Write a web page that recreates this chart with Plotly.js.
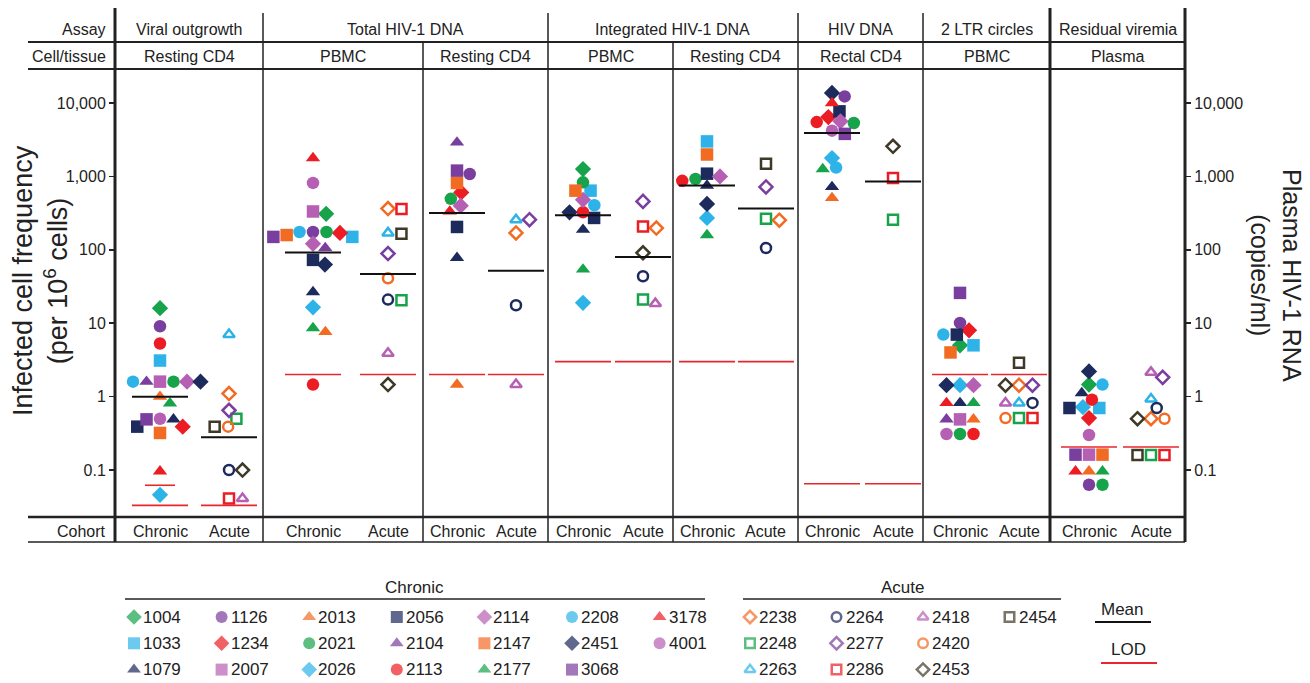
<!DOCTYPE html>
<html><head><meta charset="utf-8">
<script src="https://cdn.plot.ly/plotly-3.0.1.min.js"></script>
<style>html,body{margin:0;padding:0;background:#fff}#chart{width:1310px;height:683px}</style>
</head><body><div id="chart"></div>
<script>
// ---------------- DATA ----------------
const chronicIds = ['1004','1033','1079','1126','1234','2007','2013','2021','2026','2056','2104','2113','2114','2147','2177','2208','2451','3068','3178','4001'];
const chronicSymbols = ['diamond','square','triangle-up','circle','diamond','square','triangle-up','circle','diamond','square','triangle-up','circle','diamond','square','triangle-up','circle','diamond','square','triangle-up','circle'];
const chronicColors = ['green','cyan','navy','purple','red','pink','orange','green','cyan','navy','purple','red','pink','orange','green','cyan','navy','purple','red','pink'];

const acuteIds = ['2238','2248','2263','2264','2277','2286','2418','2420','2453','2454'];
const acuteSymbols = ['diamond-open','square-open','triangle-up-open','circle-open','diamond-open','square-open','triangle-up-open','circle-open','diamond-open','square-open'];
const acuteColors = ['orange','green','cyan','navy','purple','red','pink','orange','olive','olive'];

const assays = ['Viral outgrowth','Total HIV-1 DNA','Integrated HIV-1 DNA','HIV DNA','2 LTR circles','Residual viremia'];
const assaySpans = [1,2,2,1,1,1];
const tissues = ['Resting CD4','PBMC','Resting CD4','PBMC','Resting CD4','Rectal CD4','PBMC','Plasma'];
const cohorts = ['Chronic','Acute'];

// values per column, in chronicIds order
const voChronic      = [16,3.1,0.49,9.1,0.39,1.6,1.0,1.6,0.046,0.39,1.6,5.3,1.6,0.32,0.81,1.6,1.6,0.49,0.096,0.5];
const pbmcChronic    = [310,150,26.6,175,170,333,7.6,175,16.5,73,106,1.46,121,159,8.6,175,63,150,1780,815];
const restChronic    = [null,null,78,1080,605,null,1.46,495,null,205,2900,null,400,815,null,null,null,1200,333,null];
const intPbmcChronic = [1260,640,188,null,null,null,null,830,19,272,null,325,480,640,54,405,325,null,null,null];
const intRestChronic = [null,3000,750,null,null,null,null,925,272,1090,null,870,1000,1990,159,null,422,null,null,null];
const rectalChronic  = [null,null,720,12300,6450,null,510,5350,1780,7700,null,5500,5630,null,1260,1320,13700,3800,10000,4200];
const ltrChronic     = [5.0,5.0,0.82,10.1,8.0,0.49,0.49,0.31,1.43,7.0,0.49,0.31,1.43,4.0,0.82,7.0,1.43,25.9,0.82,0.31];
const plasmaChronic  = [1.46,0.70,1.12,0.063,0.51,0.162,0.096,0.063,0.72,0.70,null,0.91,null,0.162,0.096,1.46,2.2,0.162,0.096,0.30];

// values per column, in acuteIds order
const voAcute      = [1.1,0.50,7.0,0.1,0.65,0.041,0.041,0.39,0.1,0.39];
const pbmcAcute    = [365,20.5,170,21,89,360,3.9,41,1.46,166];
const restAcute    = [170,null,257,17.6,257,null,1.46,null,null,null];
const intPbmcAcute = [198,21,null,43.6,457,208,18.5,null,91,null];
const intRestAcute = [253,265,null,106,720,null,null,null,null,1490];
const rectalAcute  = [null,257,null,null,null,955,null,null,2570,null];
const ltrAcute     = [1.43,0.51,0.82,0.82,1.43,0.51,0.82,0.51,1.43,2.9];
const plasmaAcute  = [0.50,0.16,0.93,0.70,1.83,0.16,2.14,0.50,0.50,0.16];

const meanChronic = [1.0,92,318,295,755,3900,null,null];
const meanAcute   = [0.28,47,52,80,365,855,null,null];
const lodChronic  = [0.033,2.0,2.0,3.0,3.0,0.065,2.0,0.206];
const lodAcute    = [0.033,2.0,2.0,3.0,3.0,0.065,2.0,0.206];
const lodChronicVOExtra = 0.062;

const yTickVals = [0.1,1,10,100,1000,10000];
const yTickText = ['0.1','1','10','100','1,000','10,000'];

// ---------------- STYLE / LAYOUT ----------------
const palette = {green:'#17a34a',cyan:'#2db3e8',navy:'#1c2a5c',purple:'#7a3f9e',red:'#ec1c24',pink:'#b660b4',orange:'#f26b23',olive:'#3e3a27'};
const W=1310,H=683;
const FONT='"Liberation Sans", Arial, sans-serif';
const plotL=115, plotR=1185, plotT=70, plotB=517;
const yRange=[-1.64,4.45];
const X=p=>p/W, Y=p=>1-p/H;
const bounds=[115,263,423,548,673,798,923,1050,1185];
const colX=[[160,229],[313,388],[457,516],[583,643],[707,766],[832,893],[960,1019],[1089,1151]];
const lineHalf=28;
const DX=13.5, DY=10;
const pxPerDec=(plotB-plotT)/(yRange[1]-yRange[0]);

const chronicCols=[voChronic,pbmcChronic,restChronic,intPbmcChronic,intRestChronic,rectalChronic,ltrChronic,plasmaChronic];
const acuteCols=[voAcute,pbmcAcute,restAcute,intPbmcAcute,intRestAcute,rectalAcute,ltrAcute,plasmaAcute];

function swarm(vals){
  const pts=vals.map((v,i)=>({i,v})).filter(p=>p.v!=null);
  pts.sort((a,b)=>b.v-a.v);
  const placed=[]; const out=vals.map(()=>null);
  const ok=(c,y)=>placed.every(q=>((q.x-c)/DX)**2+((q.y-y)/DY)**2>=0.999);
  for(const p of pts){
    const y=Math.log10(p.v)*pxPerDec;
    const cands=[0];
    for(const q of placed){const dy=(y-q.y)/DY; if(Math.abs(dy)<1){const dx=DX*Math.sqrt(1-dy*dy); cands.push(q.x+dx,q.x-dx);}}
    cands.sort((a,b)=>(Math.abs(a)-Math.abs(b))||(b-a));
    let x=0;
    for(const c of cands){ if(ok(c,y)){x=c;break;} }
    placed.push({x,y}); out[p.i]=x;
  }
  return out;
}

const traces=[];
function addCohort(ids,syms,cols,colsData,k){
  const offs=colsData.map(swarm);
  ids.forEach((id,i)=>{
    const xs=[],ys=[];
    colsData.forEach((arr,c)=>{ if(arr[i]!=null){xs.push(colX[c][k]+offs[c][i]); ys.push(arr[i]);} });
    const open=syms[i].includes('open');
    const col=palette[cols[i]];
    traces.push({type:'scatter',mode:'markers',x:xs,y:ys,name:id,showlegend:false,hoverinfo:'name+y',
      marker:{symbol:syms[i],size:open?10:12.5,color:col,line:{color:col,width:open?2.5:0}}});
  });
}
addCohort(chronicIds,chronicSymbols,chronicColors,chronicCols,0);
addCohort(acuteIds,acuteSymbols,acuteColors,acuteCols,1);

function segTrace(vals,k,color,width,half){
  const xs=[],ys=[];
  vals.forEach((v,c)=>{ if(v!=null){ xs.push(colX[c][k]-half,colX[c][k]+half,null); ys.push(v,v,null);} });
  return {type:'scatter',mode:'lines',x:xs,y:ys,line:{color,width},showlegend:false,hoverinfo:'skip'};
}
traces.push(segTrace(lodChronic,0,'#e8262d',1.6,lineHalf));
traces.push(segTrace(lodAcute,1,'#e8262d',1.6,lineHalf));
traces.push(segTrace([lodChronicVOExtra],0,'#e8262d',1.6,15));
traces.push(segTrace(meanChronic,0,'#111',2,lineHalf));
traces.push(segTrace(meanAcute,1,'#111',2,lineHalf));
traces.push({type:'scatter',x:[null],y:[null],yaxis:'y2',showlegend:false,hoverinfo:'skip'});

// legend markers (pixel overlay axes)
const legX=[],legY=[],legS=[],legC=[],legW=[],legSz=[];
const annotations=[];
chronicIds.forEach((id,i)=>{
  const x=134+Math.floor(i/3)*87.6, y=617+(i%3)*26.3;
  legX.push(x);legY.push(y);legS.push(chronicSymbols[i]);legC.push(palette[chronicColors[i]]);legW.push(0);legSz.push(12);
  annotations.push({xref:'paper',yref:'paper',x:X(x+7),y:Y(y),xanchor:'left',yanchor:'middle',text:id,showarrow:false,font:{size:17,family:FONT,color:'#222'}});
});
acuteIds.forEach((id,i)=>{
  const x=750+Math.floor(i/3)*86.5, y=617+(i%3)*26.3;
  legX.push(x);legY.push(y);legS.push(acuteSymbols[i]);legC.push(palette[acuteColors[i]]);legW.push(2.5);legSz.push(9.5);
  annotations.push({xref:'paper',yref:'paper',x:X(x+7),y:Y(y),xanchor:'left',yanchor:'middle',text:id,showarrow:false,font:{size:17,family:FONT,color:'#222'}});
});
traces.push({type:'scatter',mode:'markers',xaxis:'x2',yaxis:'y3',x:legX,y:legY,showlegend:false,hoverinfo:'skip',
  marker:{symbol:legS,color:legC,size:legSz,line:{color:legC,width:legW}}});

const shapes=[];
function hline(x0,x1,y,color,width){shapes.push({type:'line',xref:'paper',yref:'paper',x0:X(x0),x1:X(x1),y0:Y(y),y1:Y(y),line:{color,width}});}
function vline(x,y0,y1,width){shapes.push({type:'line',xref:'paper',yref:'paper',x0:X(x),x1:X(x),y0:Y(y0),y1:Y(y1),line:{color:'#222',width}});}
hline(28,1185,42,'#222',2);
hline(28,1185,69,'#222',2);
hline(28,1185,517,'#222',2.5);
hline(28,1185,542,'#222',1.5);
// vertical dividers
let starts=[0]; assaySpans.reduce((a,s)=>{starts.push(a+s);return a+s;},0);
bounds.forEach((b,i)=>{
  const thick=(i===0||i===bounds.length-2||i===bounds.length-1);
  const top=thick?8:(starts.includes(i)?13:42);
  vline(b,top,542,thick?3:1.5);
});
// legend lines
hline(125,705,599,'#222',1.5);
hline(743,1061,599,'#222',1.5);
hline(1095,1151,622,'#111',2);
hline(1101,1157,663,'#e8262d',1.8);

function ann(x,y,text,size,anchor,extra){annotations.push(Object.assign({xref:'paper',yref:'paper',x:X(x),y:Y(y),xanchor:anchor||'center',yanchor:'middle',text,showarrow:false,font:{size:size,family:FONT,color:'#222'}},extra||{}));}
ann(108,29,'Assay',16,'right');
ann(108,56,'Cell/tissue',16,'right');
ann(108,531,'Cohort',16,'right');
assays.forEach((a,i)=>{ ann((bounds[starts[i]]+bounds[starts[i+1]])/2,29,a,16); });
tissues.forEach((t,i)=>{ ann((bounds[i]+bounds[i+1])/2,56,t,16); });
colX.forEach(c=>{ ann(c[0],531,cohorts[0],16); ann(c[1],531,cohorts[1],16); });
ann(415,587,'Chronic',17);
ann(902,587,'Acute',17);
ann(1122,609,'Mean',17);
ann(1128,649,'LOD',17);
ann(41,281,'Infected cell frequency<br>(per 10<sup>6</sup> cells)',27,'center',{textangle:-90});
ann(1276,275,'Plasma HIV-1 RNA<br>(copies/ml)',25,'center',{textangle:90});

const axY={type:'log',range:yRange,domain:[Y(plotB),Y(plotT)],tickvals:yTickVals,ticktext:yTickText,ticks:'outside',ticklen:5,tickwidth:1.5,tickcolor:'#222',
  showgrid:false,zeroline:false,showline:false,tickfont:{size:16,family:FONT,color:'#222'},fixedrange:true};
const layout={
  width:W,height:H,margin:{l:0,r:0,t:0,b:0},paper_bgcolor:'#fff',plot_bgcolor:'rgba(0,0,0,0)',showlegend:false,
  xaxis:{range:[plotL,plotR],domain:[X(plotL),X(plotR)],visible:false,fixedrange:true},
  yaxis:Object.assign({},axY,{anchor:'x'}),
  yaxis2:Object.assign({},axY,{anchor:'x',overlaying:'y',side:'right'}),
  xaxis2:{domain:[0,1],range:[0,W],visible:false,anchor:'y3',fixedrange:true},
  yaxis3:{domain:[0,1],range:[H,0],visible:false,anchor:'x2',fixedrange:true},
  shapes,annotations
};
Plotly.newPlot('chart',traces,layout,{displayModeBar:false,staticPlot:true});
</script></body></html>
